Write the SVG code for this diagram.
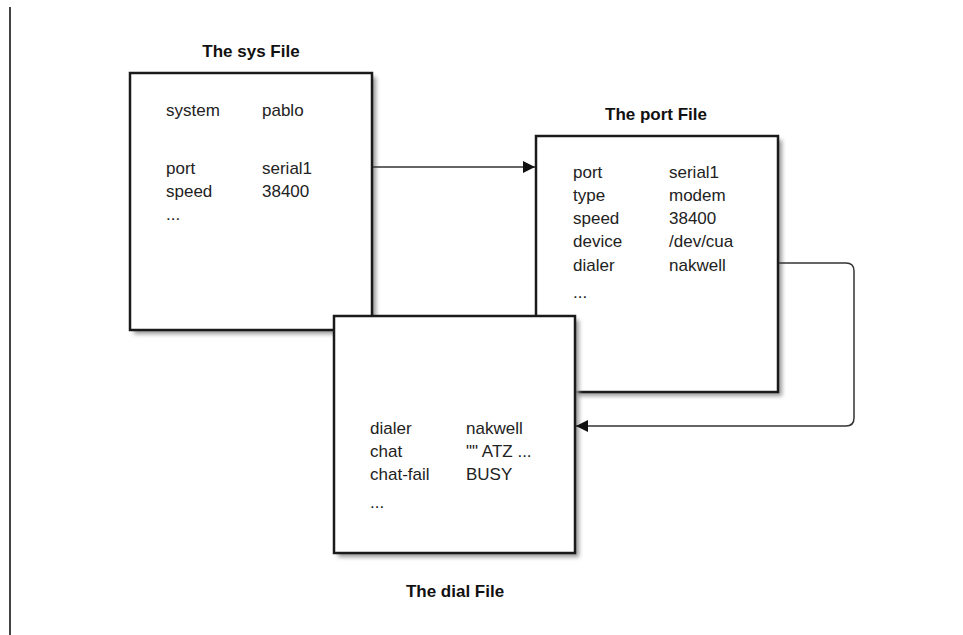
<svg xmlns="http://www.w3.org/2000/svg" width="963" height="635" viewBox="0 0 963 635">
<defs>
<style>
.box{fill:#fff;stroke:#1a1a1a;stroke-width:2.5}
.shadow{fill:#999;filter:url(#blur)}
.title{font-family:"Liberation Sans",Arial,sans-serif;font-weight:bold;font-size:17px;fill:#111;text-anchor:middle}
.t{font-family:"Liberation Sans",Arial,sans-serif;font-size:17px;fill:#222}
.conn{fill:none;stroke:#333;stroke-width:1.5}
</style>
<filter id="blur" x="-10%" y="-10%" width="120%" height="120%"><feGaussianBlur stdDeviation="2"/></filter>
<marker id="arr" viewBox="0 0 10 10" refX="10" refY="5" markerWidth="12" markerHeight="12" markerUnits="userSpaceOnUse" orient="auto"><path d="M0,0 L10,5 L0,10 z" fill="#111"/></marker>
</defs>
<rect width="963" height="635" fill="#fff"/>
<line x1="10" y1="7" x2="10" y2="635" stroke="#444" stroke-width="2"/>
<g id="sys-file">
<text class="title" x="251" y="57">The sys File</text>
<rect class="shadow" x="134" y="77" width="242" height="257"/>
<rect class="box" x="130" y="73" width="242" height="257"/>
<text class="t" x="166" y="116">system</text><text class="t" x="262" y="116">pablo</text>
<text class="t" x="166" y="174">port</text><text class="t" x="262" y="174">serial1</text>
<text class="t" x="166" y="197">speed</text><text class="t" x="262" y="197">38400</text>
<text class="t" x="166" y="220">...</text>
</g>
<g id="port-file">
<text class="title" x="656" y="120">The port File</text>
<rect class="shadow" x="540" y="140" width="242" height="256"/>
<rect class="box" x="536" y="136" width="242" height="256"/>
<text class="t" x="573" y="178">port</text><text class="t" x="669" y="178">serial1</text>
<text class="t" x="573" y="201">type</text><text class="t" x="669" y="201">modem</text>
<text class="t" x="573" y="224">speed</text><text class="t" x="669" y="224">38400</text>
<text class="t" x="573" y="247">device</text><text class="t" x="669" y="247">/dev/cua</text>
<text class="t" x="573" y="271">dialer</text><text class="t" x="669" y="271">nakwell</text>
<text class="t" x="573" y="298">...</text>
</g>
<g id="dial-file">
<rect class="shadow" x="338" y="320" width="241" height="237"/>
<rect class="box" x="334" y="316" width="241" height="237"/>
<text class="t" x="370" y="434">dialer</text><text class="t" x="466" y="434">nakwell</text>
<text class="t" x="370" y="457">chat</text><text class="t" x="466" y="457">"" ATZ ...</text>
<text class="t" x="370" y="480">chat-fail</text><text class="t" x="466" y="480">BUSY</text>
<text class="t" x="370" y="508">...</text>
<text class="title" x="455" y="597">The dial File</text>
</g>
<g id="connectors">
<path class="conn" d="M373,167 L535,167" marker-end="url(#arr)"/>
<path class="conn" d="M779,263 L846,263 Q854,263 854,271 L854,418 Q854,426 846,426 L576,426" marker-end="url(#arr)"/>
</g>
</svg>
